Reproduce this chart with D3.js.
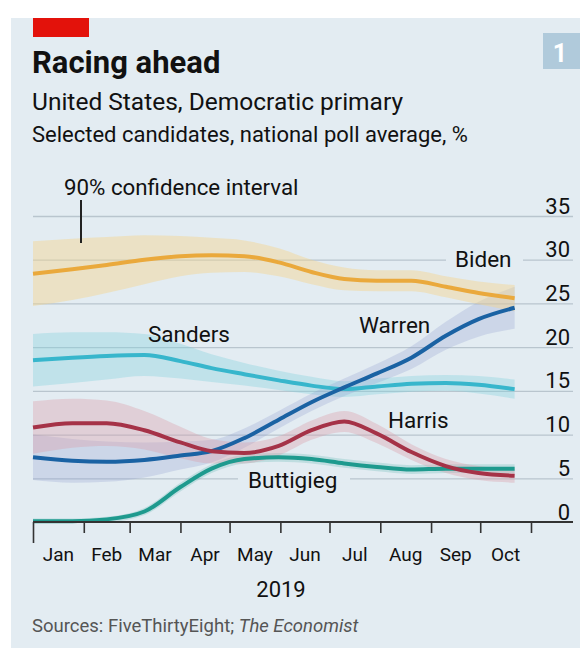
<!DOCTYPE html>
<html>
<head>
<meta charset="utf-8">
<script src="https://cdn.jsdelivr.net/npm/d3@7"></script>
<style>
  html, body { margin: 0; padding: 0; background: #ffffff; }
  svg { display: block; }
  text { font-family: Roboto, "Noto Sans", sans-serif; }
</style>
</head>
<body>
<svg id="chart" width="580" height="648"></svg>
<script>
// ---- data ----
const dates = ["2019-01-01","2019-01-25","2019-02-15","2019-03-10","2019-04-01","2019-04-20",
               "2019-05-10","2019-05-31","2019-06-20","2019-07-10","2019-07-30","2019-08-20",
               "2019-09-10","2019-09-30","2019-10-22"];
const biden      = [28.4,28.9,29.4,30.0,30.4,30.5,30.4,29.7,28.6,27.8,27.6,27.6,26.9,26.2,25.6];
const bidenCI    = [3.7,3.5,3.2,2.8,2.3,2.0,1.8,1.6,1.4,1.3,1.2,1.2,1.2,1.3,1.5];
const sanders    = [18.5,18.8,19.0,19.1,18.4,17.6,16.9,16.2,15.6,15.2,15.5,15.8,15.9,15.7,15.2];
const sandersCI  = [3.0,2.9,2.7,2.4,2.0,1.6,1.3,1.1,1.0,0.9,0.9,0.9,0.9,1.0,1.1];
const warren     = [7.4,7.0,6.9,7.1,7.6,8.1,9.6,11.7,13.7,15.4,17.0,18.8,21.3,23.2,24.5];
const warrenCI   = [2.6,2.5,2.3,2.0,1.6,1.3,1.1,1.0,1.0,1.0,1.1,1.3,1.6,2.0,2.4];
const harris     = [10.8,11.3,11.3,10.5,9.1,8.1,7.9,8.7,10.5,11.5,10.1,8.0,6.4,5.6,5.3];
const harrisCI   = [3.0,2.8,2.6,2.2,1.8,1.4,1.2,1.1,1.1,1.2,1.1,0.9,0.8,0.8,0.8];
const buttigieg  = [0.1,0.1,0.3,1.2,4.0,6.1,7.2,7.4,7.2,6.7,6.3,6.0,6.1,6.1,6.1];
const buttigiegCI= [0.3,0.3,0.3,0.4,0.5,0.5,0.5,0.5,0.5,0.5,0.5,0.5,0.5,0.5,0.5];
const yTicks = [0,5,10,15,20,25,30,35];
const monthLabels = ["Jan","Feb","Mar","Apr","May","Jun","Jul","Aug","Sep","Oct"];
const yearLabel = "2019";

const parse = d3.timeParse("%Y-%m-%d");
const series = [
  {name:"Buttigieg", values:buttigieg, ci:buttigiegCI, color:"#1e9a8e", band:"#1e9a8e", bandOp:0.18},
  {name:"Sanders",   values:sanders,   ci:sandersCI,   color:"#37b6cc", band:"#7fd0de", bandOp:0.35},
  {name:"Warren",    values:warren,    ci:warrenCI,    color:"#1a62a3", band:"#8f9fd0", bandOp:0.28},
  {name:"Harris",    values:harris,    ci:harrisCI,    color:"#a53247", band:"#d99aa6", bandOp:0.35},
  {name:"Biden",     values:biden,     ci:bidenCI,     color:"#eaa93c", band:"#f5d48e", bandOp:0.45}
];

const svg = d3.select("#chart");
const bg = "#e3ecf2";

// panel
svg.append("rect").attr("x",11).attr("y",18).attr("width",569).attr("height",630).attr("fill",bg);
svg.append("rect").attr("x",33).attr("y",18).attr("width",56).attr("height",19).attr("fill","#e3120b");
svg.append("rect").attr("x",543).attr("y",33).attr("width",40).attr("height",36).attr("fill","#b0cadb");
svg.append("text").attr("x",560).attr("y",62).attr("text-anchor","middle").attr("fill","#fff")
  .attr("font-weight","bold").attr("font-size",25).text("1");

// titles
svg.append("text").attr("x",32).attr("y",73).attr("font-weight","bold").attr("font-size",31).attr("fill","#111").text("Racing ahead");
svg.append("text").attr("x",32).attr("y",110).attr("font-size",24.5).attr("fill","#111").text("United States, Democratic primary");
svg.append("text").attr("x",32).attr("y",142).attr("font-size",22).attr("fill","#111").text("Selected candidates, national poll average, %");

// scales
const x = d3.scaleTime().domain([new Date(2019,0,1), new Date(2019,10,1)]).range([33,531]);
const y = d3.scaleLinear().domain([0,35]).range([522,216]);

// gridlines via axis
const gridG = svg.append("g").attr("transform","translate(33,0)")
  .call(d3.axisRight(y).tickValues(yTicks).tickSize(540).tickFormat(d3.format("d")));
gridG.select(".domain").remove();
gridG.selectAll(".tick line").attr("stroke","#b9c5ce").attr("stroke-width",1.3);
gridG.selectAll(".tick text").attr("x",537).attr("dy",-3).attr("text-anchor","end")
  .attr("font-size",22).attr("fill","#111").attr("font-family","Roboto, sans-serif");
gridG.selectAll(".tick").filter(d=>d===0).select("line").attr("stroke","none");

// gaps behind labels on gridlines
svg.append("rect").attr("x",446).attr("y",y(30)-4).attr("width",77).attr("height",8).attr("fill",bg);
svg.append("rect").attr("x",238).attr("y",y(5)-4).attr("width",112).attr("height",8).attr("fill",bg);

// bands
const bandG = svg.append("g");
const lineG = svg.append("g");
series.forEach(s => {
  const pts = dates.map((d,i)=>({date:parse(d), v:s.values[i], c:s.ci[i]}));
  const area = d3.area().x(d=>x(d.date)).y0(d=>y(Math.max(0,d.v-d.c))).y1(d=>y(d.v+d.c)).curve(d3.curveMonotoneX);
  bandG.append("path").datum(pts).attr("d",area).attr("fill",s.band).attr("fill-opacity",s.bandOp);
  s.pts = pts;
});
series.forEach(s => {
  const line = d3.line().x(d=>x(d.date)).y(d=>y(d.v)).curve(d3.curveMonotoneX);
  lineG.append("path").datum(s.pts).attr("d",line).attr("fill","none").attr("stroke",s.color)
    .attr("stroke-width",4).attr("stroke-linecap","butt");
});

// series labels
const lab = (t,xx,yy)=>svg.append("text").attr("x",xx).attr("y",yy).attr("font-size",22.5).attr("fill","#111").text(t);
lab("Biden",455,267);
lab("Sanders",148,342);
lab("Warren",359,333);
lab("Harris",388,428);
lab("Buttigieg",248,488);

// annotation
svg.append("text").attr("x",64).attr("y",195).attr("font-size",22.3).attr("fill","#111").text("90% confidence interval");
svg.append("line").attr("x1",81).attr("x2",81).attr("y1",200).attr("y2",243).attr("stroke","#222").attr("stroke-width",2);

// x axis
const monthStarts = d3.timeMonth.range(new Date(2019,0,1), new Date(2019,10,2));
const xAxis = svg.append("g").attr("transform","translate(0,522)")
  .call(d3.axisBottom(x).tickValues(monthStarts).tickSize(11).tickFormat(""));
xAxis.select(".domain").remove();
xAxis.selectAll(".tick line").attr("stroke","#333").attr("stroke-width",1.6);
xAxis.selectAll(".tick").filter((d,i)=>i===0).select("line").attr("y2",21);
svg.append("line").attr("x1",33).attr("x2",573).attr("y1",522).attr("y2",522).attr("stroke","#333").attr("stroke-width",1.8);

monthLabels.forEach((m,i)=>{
  const a = monthStarts[i], b = monthStarts[i+1];
  svg.append("text").attr("x",(x(a)+x(b))/2).attr("y",561).attr("text-anchor","middle")
    .attr("font-size",19).attr("fill","#111").text(m);
});
svg.append("text").attr("x",281).attr("y",597).attr("text-anchor","middle").attr("font-size",22).attr("fill","#111").text(yearLabel);

// source
const src = svg.append("text").attr("x",32).attr("y",632).attr("font-size",18.5).attr("fill","#555");
src.append("tspan").text("Sources: FiveThirtyEight; ");
src.append("tspan").attr("font-style","italic").text("The Economist");
</script>
</body>
</html>
